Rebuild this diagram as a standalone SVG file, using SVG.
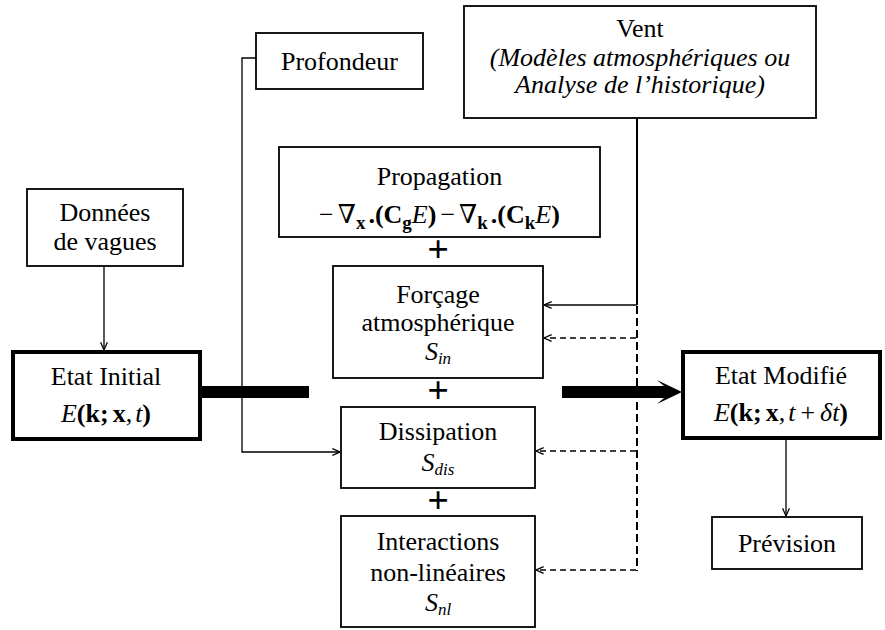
<svg xmlns="http://www.w3.org/2000/svg" width="885" height="630" viewBox="0 0 885 630" font-family="'Liberation Serif', 'DejaVu Serif', serif">
<defs>
<marker id="ah" viewBox="0 0 10 10" refX="9.5" refY="5" markerWidth="9" markerHeight="9" markerUnits="userSpaceOnUse" orient="auto"><path d="M1,1.2 L9.5,5 L1,8.8" fill="none" stroke="#000" stroke-width="1.4"/></marker>
</defs>
<style>
.box{fill:#fff;stroke:#000;stroke-width:1.8}
.thick{fill:#fff;stroke:#000;stroke-width:4}
text{font-family:'Liberation Serif', 'DejaVu Serif', serif;font-size:26px;fill:#000}
.c{text-anchor:middle}
.it{font-style:italic}
.b{font-weight:bold}
.sub{font-size:17px}
.fsub{font-size:19px}
.ln{fill:none;stroke:#000;stroke-width:1.3}
.ln2{fill:none;stroke:#000;stroke-width:2}
.dash{fill:none;stroke:#000;stroke-width:1.3;stroke-dasharray:6 4}
.dash2{fill:none;stroke:#000;stroke-width:2;stroke-dasharray:8 4}
.plus{font-size:38px;font-weight:bold;text-anchor:middle}
</style>
<rect width="885" height="630" fill="#fff"/>

<g id="connectors">
<line class="ln" x1="104" y1="266" x2="104" y2="350" marker-end="url(#ah)"/>
<polyline class="ln" points="256,58 242,58 242,452 340,452" marker-end="url(#ah)"/>
<line class="ln2" x1="637" y1="118" x2="637" y2="305"/>
<line class="ln" x1="637" y1="305" x2="544" y2="305" marker-end="url(#ah)"/>
<line class="dash2" x1="637" y1="306" x2="637" y2="571"/>
<line class="dash" x1="636" y1="338" x2="544" y2="338" marker-end="url(#ah)"/>
<line class="dash" x1="636" y1="451" x2="536" y2="451" marker-end="url(#ah)"/>
<line class="dash" x1="636" y1="570" x2="536" y2="570" marker-end="url(#ah)"/>
<line class="ln" x1="786" y1="439" x2="786" y2="516" marker-end="url(#ah)"/>
<rect x="201" y="386" width="108" height="12" fill="#000"/>
<polygon points="562,386 664,386 657,380 682,392 657,404 664,398 562,398" fill="#000"/>
</g>

<g id="donnees">
<rect class="box" x="27" y="189" width="156" height="77"/>
<text class="c" x="105" y="221">Données</text>
<text class="c" x="105" y="250">de vagues</text>
</g>

<g id="profondeur">
<rect class="box" x="256" y="33" width="167" height="56"/>
<text class="c" x="339.5" y="70">Profondeur</text>
</g>

<g id="vent">
<rect class="box" x="464" y="6" width="352" height="112"/>
<text class="c" x="640" y="37">Vent</text>
<text class="c it" x="640" y="66" font-size="23">(Modèles atmosphériques ou</text>
<text class="c it" x="640" y="93" font-size="23">Analyse de l’historique)</text>
</g>

<g id="propagation">
<rect class="box" x="279" y="147" width="321" height="90"/>
<text class="c" x="439.5" y="185">Propagation</text>
<text class="c" x="439.5" y="223" font-size="29">−<tspan dx="4">∇</tspan><tspan class="b fsub" dy="6">x</tspan><tspan class="b" dy="-6" dx="3">.(C</tspan><tspan class="b fsub" dy="6">g</tspan><tspan class="it" dy="-6">E</tspan><tspan class="b">)</tspan><tspan dx="4">−</tspan><tspan dx="4">∇</tspan><tspan class="b fsub" dy="6">k</tspan><tspan class="b" dy="-6" dx="3">.(C</tspan><tspan class="b fsub" dy="6">k</tspan><tspan class="it" dy="-6">E</tspan><tspan class="b">)</tspan></text>
</g>

<g id="forcage">
<rect class="box" x="333" y="266" width="210" height="112"/>
<text class="c" x="438" y="303">Forçage</text>
<text class="c" x="438" y="331">atmosphérique</text>
<text class="c it" x="438" y="360">S<tspan class="sub" dy="4">in</tspan></text>
</g>

<g id="dissipation">
<rect class="box" x="341" y="407" width="194" height="81"/>
<text class="c" x="438" y="440">Dissipation</text>
<text class="c it" x="438" y="471">S<tspan class="sub" dy="4">dis</tspan></text>
</g>

<g id="interactions">
<rect class="box" x="341" y="516" width="194" height="111"/>
<text class="c" x="438" y="550">Interactions</text>
<text class="c" x="438" y="581">non-linéaires</text>
<text class="c it" x="438" y="611">S<tspan class="sub" dy="4">nl</tspan></text>
</g>

<g id="plus-signs">
<text class="plus" x="438" y="262">+</text>
<text class="plus" x="438" y="403">+</text>
<text class="plus" x="438" y="513">+</text>
</g>

<g id="etat-initial">
<rect class="thick" x="13" y="352" width="187" height="87"/>
<text class="c" x="106" y="385">Etat Initial</text>
<text class="c" x="106" y="422" font-size="31"><tspan class="it">E</tspan><tspan class="b">(k;</tspan><tspan class="b" dx="4">x</tspan><tspan>,</tspan><tspan class="it" dx="3">t</tspan><tspan class="b">)</tspan></text>
</g>

<g id="etat-modifie">
<rect class="thick" x="683" y="352" width="197" height="86"/>
<text class="c" x="781" y="384">Etat Modifié</text>
<text class="c" x="781" y="421" font-size="31"><tspan class="it">E</tspan><tspan class="b">(k;</tspan><tspan class="b" dx="4">x</tspan><tspan>,</tspan><tspan class="it" dx="3">t</tspan><tspan dx="5">+</tspan><tspan class="it" dx="5">δt</tspan><tspan class="b">)</tspan></text>
</g>

<g id="prevision">
<rect class="box" x="712" y="517" width="150" height="52"/>
<text class="c" x="787" y="552">Prévision</text>
</g>
</svg>
